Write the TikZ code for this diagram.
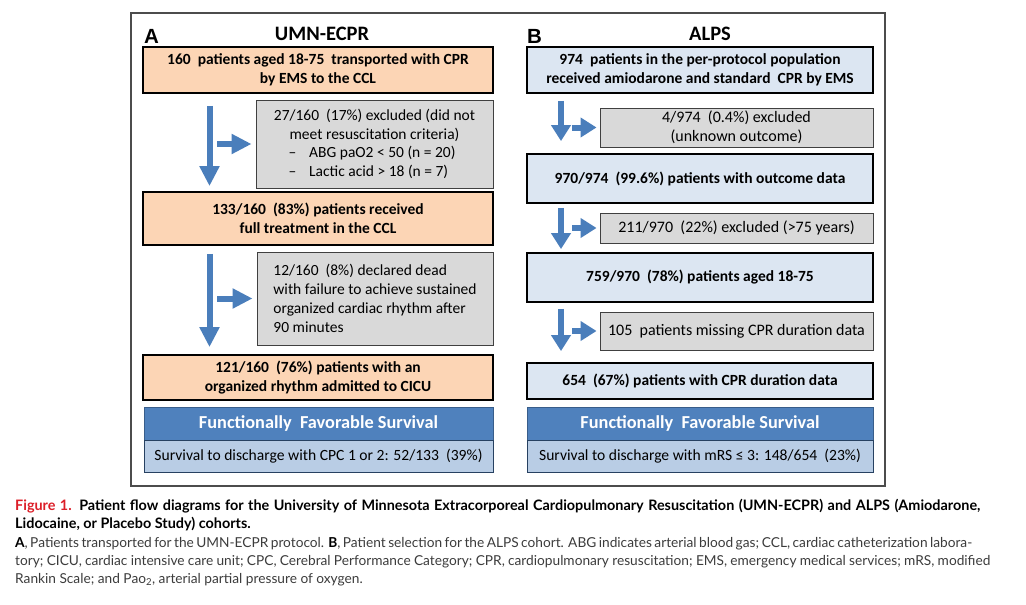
\documentclass[tikz,border=0pt]{standalone}
\usepackage{fontspec}
\setmainfont{Carlito}
\newfontfamily\capfont{Lato}
\newfontfamily\labfont{Liberation Sans}
\usetikzlibrary{arrows.meta}
\definecolor{orangefill}{RGB}{252,213,181}
\definecolor{grayfill}{RGB}{217,217,217}
\definecolor{lbfill}{RGB}{220,230,242}
\definecolor{hdrblue}{RGB}{79,129,189}
\definecolor{survfill}{RGB}{185,205,229}
\definecolor{hdrline}{RGB}{56,93,138}
\definecolor{arrowblue}{RGB}{74,126,187}
\definecolor{figred}{RGB}{220,30,40}
\definecolor{captext}{RGB}{60,60,60}
\tikzset{
  mainbox/.style={draw=black, line width=1.8pt, align=center, inner sep=0pt,
    font=\fontsize{15.5}{19}\selectfont\bfseries},
  orangebox/.style={mainbox, fill=orangefill, minimum width=350pt},
  bluebox/.style={mainbox, fill=lbfill, minimum width=346pt},
  graybox/.style={draw=black!75, line width=0.9pt, fill=grayfill, inner sep=0pt,
    font=\fontsize{16}{18.8}\selectfont},
  hdrbox/.style={draw=hdrline, line width=0.8pt, fill=hdrblue, text=white, inner sep=0pt,
    minimum height=33pt, font=\fontsize{18.3}{20}\selectfont\bfseries},
  survbox/.style={draw=hdrline!70!black, line width=0.8pt, fill=survfill, inner sep=0pt,
    minimum height=32pt, font=\fontsize{15.6}{18}\selectfont},
  bigarrow/.style={draw=arrowblue, line width=6pt, -{Triangle[length=20pt,width=19pt]}},
  smallarrow/.style={draw=arrowblue, line width=6pt, -{Triangle[length=16pt,width=19pt]}},
  title/.style={font=\fontsize{20.5}{22}\selectfont\bfseries, inner sep=0pt},
  panellabel/.style={font=\labfont\fontsize{20.5}{22}\selectfont\bfseries, inner sep=0pt, anchor=base west},
  caption/.style={anchor=base west, inner sep=0pt, font=\capfont\fontsize{13.7}{15}\selectfont, text=captext},
  boldcaption/.style={caption, text=black, font=\capfont\bfseries\fontsize{14.4}{16}\selectfont},
}
\begin{document}
\begin{tikzpicture}[x=1pt,y=-1pt]
\useasboundingbox (0,0) rectangle (1026,605);
\fill[white] (0,0) rectangle (1026,605);
% outer frame
\draw[draw=black!70, line width=1.3pt] (131,13) rectangle (885,486);

% ---------- Panel A ----------
\node[panellabel] (labA) at (144,43) {A};
\node[title, anchor=base] (titA) at (322,40) {UMN-ECPR};
\node[orangebox, minimum height=46pt] (A1) at (318,70)
  {160 \ patients aged 18-75 \ transported with CPR\\by EMS to the CCL};
\node[graybox, font=\fontsize{15.5}{18.8}\selectfont, minimum width=237pt, minimum height=88pt, align=center] (Ae1) at (374.5,144)
  {27/160 \ (17\%) excluded (did not\\
   meet resuscitation criteria)\\
   \makebox[172pt][l]{–\hspace{13pt}ABG paO2 < 50 (n = 20)}\\
   \makebox[172pt][l]{–\hspace{13pt}Lactic acid > 18 (n = 7)}};
\node[orangebox, minimum height=53pt] (A2) at (318,218.5)
  {133/160 \ (83\%) patients received\\full treatment in the CCL};
\node[graybox, font=\fontsize{15.5}{18.8}\selectfont, minimum width=236pt, minimum height=93pt, align=left] (Ae2) at (375,298.5)
  {12/160 \ (8\%) declared dead\\with failure to achieve sustained\\organized cardiac rhythm after\\90 minutes};
\node[orangebox, minimum height=45pt] (A3) at (318,377.5)
  {121/160 \ (76\%) patients with an\\organized rhythm admitted to CICU};
\node[hdrbox, minimum width=349pt] (AH) at (318.5,423.5) {Functionally \ Favorable Survival};
\node[survbox, minimum width=349pt] (AS) at (318.5,456) {Survival to discharge with CPC 1 or 2: 52/133 \ (39\%)};

\coordinate (ax) at (209.5,0);
\draw[bigarrow, shorten <=12pt, shorten >=5pt] (A1.south -| ax) -- (A2.north -| ax);
\draw[bigarrow, shorten >=4pt] ([xshift=7.5pt]ax |- Ae1.west) -- (Ae1.west);
\draw[bigarrow, shorten <=8pt, shorten >=7pt] (A2.south -| ax) -- (A3.north -| ax);
\draw[bigarrow, shorten >=4pt] ([xshift=7.5pt]ax |- Ae2.west) -- (Ae2.west);

% ---------- Panel B ----------
\node[panellabel] (labB) at (527,43) {B};
\node[title, anchor=base] (titB) at (710,40) {ALPS};
\node[bluebox, minimum height=46pt] (B1) at (700,70)
  {974 \ patients in the per-protocol population\\received amiodarone and standard \ CPR by EMS};
\node[graybox, minimum width=273pt, minimum height=39pt, align=center] (Be1) at (736.5,127.5)
  {4/974 \ (0.4\%) excluded\\(unknown outcome)};
\node[bluebox, minimum height=49pt] (B2) at (700,178.5)
  {970/974 \ (99.6\%) patients with outcome data};
\node[graybox, minimum width=273pt, minimum height=30pt, align=center] (Be2) at (736.5,228)
  {211/970 \ (22\%) excluded (>75 years)};
\node[bluebox, minimum height=49pt] (B3) at (700,277.5)
  {759/970 \ (78\%) patients aged 18-75};
\node[graybox, minimum width=273pt, minimum height=38pt, align=center] (Be3) at (736.5,331)
  {105 \ patients missing CPR duration data};
\node[bluebox, minimum height=36pt] (B4) at (700,381)
  {654 \ (67\%) patients with CPR duration data};
\node[hdrbox, minimum width=346pt] (BH) at (700,423.5) {Functionally \ Favorable Survival};
\node[survbox, minimum width=346pt] (BS) at (700,456) {Survival to discharge with mRS ≤ 3: 148/654 \ (23\%)};

\coordinate (bx) at (561,0);
\draw[smallarrow, shorten <=7pt, shorten >=12pt] (B1.south -| bx) -- (B2.north -| bx);
\draw[smallarrow, shorten >=3pt] ([xshift=11pt]bx |- Be1.west) -- (Be1.west);
\draw[smallarrow, shorten <=4pt, shorten >=3pt] (B2.south -| bx) -- (B3.north -| bx);
\draw[smallarrow, shorten >=3pt] ([xshift=11pt]bx |- Be2.west) -- (Be2.west);
\draw[smallarrow, shorten <=6pt, shorten >=11pt] (B3.south -| bx) -- (B4.north -| bx);
\draw[smallarrow, shorten >=3pt] ([xshift=11pt]bx |- Be3.west) -- (Be3.west);

% ---------- Caption ----------
\node[boldcaption] (cap1) at (15,510)
  {\makebox[965pt][s]{\textcolor{figred}{Figure 1.} Patient flow diagrams for the University of Minnesota Extracorporeal Cardiopulmonary Resuscitation (UMN-ECPR) and ALPS (Amiodarone,}};
\node[boldcaption] (cap2) at (15,528)
  {Lidocaine, or Placebo Study) cohorts.};
\node[caption] (cap3) at (15,547)
  {\makebox[957pt][s]{\textbf{\color{black}A}, Patients transported for the UMN-ECPR protocol. \textbf{\color{black}B}, Patient selection for the ALPS cohort. ABG indicates arterial blood gas; CCL, cardiac catheterization labora-}};
\node[caption] (cap4) at (15,565)
  {\makebox[975pt][s]{tory; CICU, cardiac intensive care unit; CPC, Cerebral Performance Category; CPR, cardiopulmonary resuscitation; EMS, emergency medical services; mRS, modified}};
\node[caption] (cap5) at (15,583)
  {Rankin Scale; and Pao\textsubscript{2}, arterial partial pressure of oxygen.};
\end{tikzpicture}
\end{document}
